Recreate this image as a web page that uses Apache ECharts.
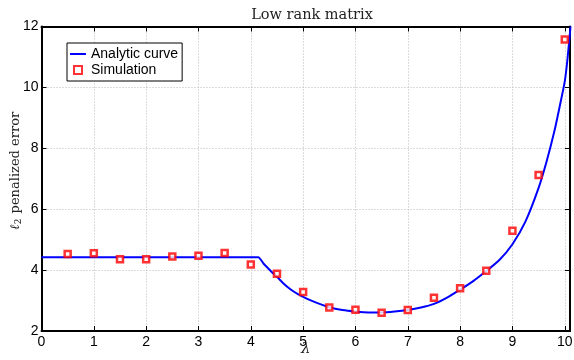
<!DOCTYPE html>
<html>
<head>
<meta charset="utf-8">
<script src="https://cdn.jsdelivr.net/npm/echarts@6/dist/echarts.min.js"></script>
<style>
html,body{margin:0;padding:0;background:#fff;}
#chart{width:574px;height:360px;}
</style>
</head>
<body>
<div id="chart"></div>
<script>
// Analytic curve
const curveX = [0, 3.9, 4.0, 4.14, 4.25, 4.4, 4.5, 4.62, 4.75, 4.9, 5.0, 5.25, 5.5, 5.75, 6.0, 6.25, 6.5, 6.75, 7.0, 7.25, 7.5, 7.75, 8.0, 8.25, 8.5, 8.75, 9.0, 9.25, 9.5, 9.65, 9.8, 9.9, 10.0, 10.05, 10.11];
const curveY = [4.42, 4.42, 4.42, 4.42, 4.2, 3.94, 3.78, 3.57, 3.38, 3.21, 3.12, 2.93, 2.78, 2.69, 2.64, 2.61, 2.61, 2.64, 2.69, 2.77, 2.89, 3.1, 3.36, 3.64, 3.97, 4.33, 4.85, 5.6, 6.7, 7.55, 8.55, 9.35, 10.2, 10.9, 12.0];
// Simulation points
const simX = [0.5, 1, 1.5, 2, 2.5, 3, 3.5, 4, 4.5, 5, 5.5, 6, 6.5, 7, 7.5, 8, 8.5, 9, 9.5, 10];
const simY = [4.53, 4.55, 4.36, 4.36, 4.45, 4.47, 4.56, 4.18, 3.88, 3.28, 2.77, 2.70, 2.60, 2.69, 3.09, 3.40, 3.98, 5.29, 7.12, 11.57];
const xTicks = { min: 0, max: 10.1, interval: 1 };
const yTicks = { min: 2, max: 12, interval: 2 };
const titleText = 'Low rank matrix';
const seriesNames = ['Analytic curve', 'Simulation'];

const curveData = curveX.map((x, i) => [x, curveY[i]]);
const simData = simX.map((x, i) => [x, simY[i]]);

const sans = '"Liberation Sans", Arial, Helvetica, sans-serif';
const serif = '"DejaVu Serif", "Liberation Serif", serif';
const frameLine = { show: true, onZero: false, lineStyle: { color: '#000', width: 2 } };
const grid = { type: [1, 2], color: '#b8b8b8', width: 1 };

const chart = echarts.init(document.getElementById('chart'));
chart.setOption({
  animation: false,
  backgroundColor: '#fff',
  title: {
    text: titleText,
    left: 307, top: 3, textAlign: 'center',
    textStyle: { fontFamily: serif, fontSize: 14.5, fontWeight: 'normal', color: '#222' }
  },
  grid: { left: 41.5, top: 26.5, right: 4, bottom: 29, containLabel: false, outerBoundsMode: 'none' },
  legend: {
    orient: 'vertical', left: 67, top: 43,
    backgroundColor: '#fff', borderColor: '#000', borderWidth: 1,
    padding: [4, 4, 4, 3], itemGap: 2,
    itemWidth: 16, itemHeight: 8, symbolKeepAspect: true,
    textStyle: { fontFamily: sans, fontSize: 14, color: '#000' },
    data: [
      { name: seriesNames[0], icon: 'path://M0,0 L16,0 L16,2 L0,2 Z' },
      { name: seriesNames[1], icon: 'path://M0,0 L8,0 L8,8 L0,8 Z' }
    ]
  },
  xAxis: [{
    type: 'value', position: 'bottom', min: xTicks.min, max: xTicks.max, interval: xTicks.interval,
    axisLine: frameLine,
    axisTick: { show: true, inside: true, length: 5, lineStyle: { color: '#000', width: 1 } },
    axisLabel: { fontFamily: sans, fontSize: 14, color: '#000', margin: 4, showMaxLabel: false },
    splitLine: { show: true, lineStyle: grid },
    name: 'λ', nameLocation: 'middle', nameGap: 11, nameMoveOverlap: false,
    nameTextStyle: { fontFamily: serif, fontStyle: 'italic', fontSize: 15, color: '#222' }
  }, {
    type: 'value', position: 'top', min: xTicks.min, max: xTicks.max, interval: xTicks.interval,
    axisLine: frameLine,
    axisTick: { show: true, inside: true, length: 5, lineStyle: { color: '#000', width: 1 } },
    axisLabel: { show: false }, splitLine: { show: false }
  }],
  yAxis: [{
    type: 'value', position: 'left', min: yTicks.min, max: yTicks.max, interval: yTicks.interval,
    axisLine: frameLine,
    axisTick: { show: true, inside: true, length: 5, lineStyle: { color: '#000', width: 1 } },
    axisLabel: { fontFamily: sans, fontSize: 14, color: '#000', margin: 3 },
    splitLine: { show: true, lineStyle: grid },
    name: '{l|ℓ}{s|2} penalized error', nameLocation: 'middle', nameGap: 18, nameRotate: 90,
    nameMoveOverlap: false,
    nameTextStyle: {
      fontFamily: serif, fontSize: 13, color: '#222', padding: [0, 0, 0, 16],
      rich: {
        l: { fontFamily: serif, fontSize: 13, fontStyle: 'italic', color: '#222' },
        s: { fontFamily: serif, fontSize: 9, color: '#222', verticalAlign: 'bottom', padding: [6, 1, 0, 0] }
      }
    }
  }, {
    type: 'value', position: 'right', min: yTicks.min, max: yTicks.max, interval: yTicks.interval,
    axisLine: frameLine,
    axisTick: { show: true, inside: true, length: 5, lineStyle: { color: '#000', width: 1 } },
    axisLabel: { show: false }, splitLine: { show: false }
  }],
  series: [{
    name: seriesNames[0], type: 'line', data: curveData, symbol: 'none', smooth: 0.25,
    lineStyle: { color: '#0000ff', width: 2 }, itemStyle: { color: '#0000ff' },
    z: 3, clip: true
  }, {
    name: seriesNames[1], type: 'scatter', data: simData, symbol: 'rect', symbolSize: 6,
    itemStyle: { color: '#fff', borderColor: '#ff0000', borderWidth: 2.5 },
    z: 4
  }]
});
</script>
</body>
</html>
